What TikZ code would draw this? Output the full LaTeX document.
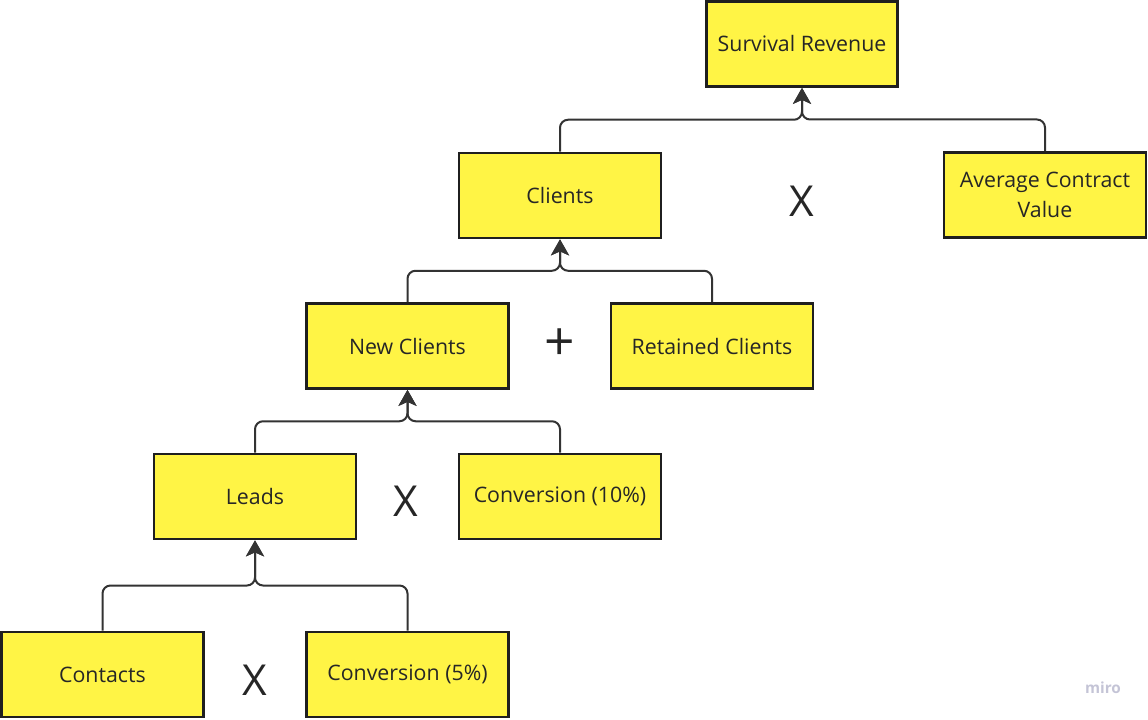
\documentclass[tikz,border=0pt]{standalone}
\usepackage{fontspec}
\setmainfont{Open Sans}
\usetikzlibrary{arrows.meta,calc}
\definecolor{stickyyellow}{HTML}{FFF445}
\definecolor{linegray}{HTML}{333333}
\definecolor{marklilac}{HTML}{C4C4D6}
\begin{document}
\begin{tikzpicture}[x=0.75pt,y=-0.75pt]
  \tikzstyle{box}=[rectangle,draw=black!88,line width=1.8pt,fill=stickyyellow,minimum width=151.5pt,minimum height=64pt,inner sep=2pt,align=center,font=\fontsize{16}{22.5}\selectfont,text=black!85]
  \tikzstyle{op}=[font=\fontsize{32}{36}\selectfont,text=black!85]
  \tikzstyle{link}=[draw=linegray,line width=1.5pt,rounded corners=6pt,-{Stealth[length=12pt,width=13.5pt,inset=3pt]}]
  \useasboundingbox (0,0) rectangle (1148,720);

  \node [box,minimum width=143pt] (rev) at (802,44) {Survival Revenue};
  \node [box] (clients) at (560,195.5) {Clients};
  \node [box] (acv) at (1045,195) {Average Contract\\Value};
  \node [box] (newcl) at (407.5,346) {New Clients};
  \node [box] (retcl) at (712,346) {Retained Clients};
  \node [box] (leads) at (255,496.5) {Leads};
  \node [box] (conv10) at (560,496.5) {Conversion (10\%)};
  \node [box] (contacts) at (102.5,674.5) {Contacts};
  \node [box] (conv5) at (407.5,674.5) {Conversion (5\%)};

  \node [op] (op1) at (802,201) {X};
  \node [op,font=\fontsize{40}{44}\selectfont] (op2) at (560,345) {+};
  \node [op] (op3) at (406,501) {X};
  \node [op] (op4) at (255,680) {X};

  \path[link] (clients.north) |- ($(rev.south)!.5!(clients.north)$) -| (rev.south);
  \path[link] (acv.north) |- ($(rev.south)!.5!(acv.north)$) -| (rev.south);
  \path[link] (newcl.north) |- ($(clients.south)!.5!(newcl.north)$) -| (clients.south);
  \path[link] (retcl.north) |- ($(clients.south)!.5!(retcl.north)$) -| (clients.south);
  \path[link] (leads.north) |- ($(newcl.south)!.5!(leads.north)$) -| (newcl.south);
  \path[link] (conv10.north) |- ($(newcl.south)!.5!(conv10.north)$) -| (newcl.south);
  \path[link] (contacts.north) |- ($(leads.south)!.5!(contacts.north)$) -| (leads.south);
  \path[link] (conv5.north) |- ($(leads.south)!.5!(conv5.north)$) -| (leads.south);

  \node [font=\fontsize{11.5}{13}\selectfont\bfseries,text=marklilac] (miro) at (1103,688) {miro};
\end{tikzpicture}
\end{document}
